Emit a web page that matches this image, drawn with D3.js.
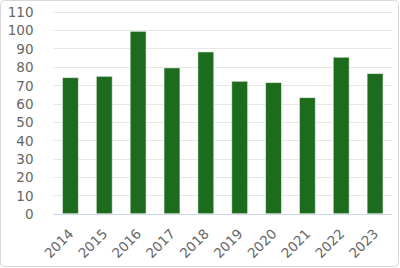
<!DOCTYPE html>
<html>
<head>
<meta charset="utf-8">
<script src="https://cdn.jsdelivr.net/npm/d3@7"></script>
<style>
  html, body { margin: 0; padding: 0; background: #fff; }
  svg { display: block; }
  text { font-family: "DejaVu Sans", sans-serif; }
</style>
</head>
<body>
<svg id="chart" width="400" height="268"></svg>
<script>
const years = ["2014","2015","2016","2017","2018","2019","2020","2021","2022","2023"];
const values = [74.1, 74.8, 99.3, 79.4, 88.1, 72.1, 71.4, 63.2, 85.2, 76.3];
const yTicks = [0,10,20,30,40,50,60,70,80,90,100,110];

const svg = d3.select("#chart");
const W = 400, H = 268;
const plotLeft = 53.5, plotRight = 392, plotTop = 11.7, plotBottom = 213.7;

// outer frame
svg.append("rect")
  .attr("x", 0.5).attr("y", 0.5)
  .attr("width", W - 2).attr("height", H - 2)
  .attr("rx", 4)
  .attr("fill", "#fff")
  .attr("stroke", "#d8d8d8");

const x = d3.scaleBand().domain(years).range([plotLeft, plotRight])
  .paddingInner(0.53).paddingOuter(0.265);
const y = d3.scaleLinear().domain([0, 110]).range([plotBottom, plotTop]);

// gridlines
svg.append("g").selectAll("line").data(yTicks.filter(d => d > 0)).join("line")
  .attr("x1", plotLeft).attr("x2", plotRight)
  .attr("y1", d => Math.round(y(d)) + 0.5).attr("y2", d => Math.round(y(d)) + 0.5)
  .attr("stroke", "#e6e6e6").attr("stroke-width", 1);

// y labels
const yAxis = d3.axisLeft(y).tickValues(yTicks).tickSize(0).tickPadding(0);
const yg = svg.append("g").attr("transform", `translate(${plotLeft - 20},0)`).call(yAxis);
yg.select(".domain").remove();
yg.selectAll("text")
  .attr("font-size", "13.5px")
  .attr("font-family", "DejaVu Sans, sans-serif")
  .attr("fill", "#666")
  .attr("dy", "0.36em");

// bars
svg.append("g").selectAll("rect").data(years).join("rect")
  .attr("x", d => x(d))
  .attr("y", (d, i) => y(values[i]))
  .attr("width", x.bandwidth())
  .attr("height", (d, i) => y(0) - y(values[i]))
  .attr("fill", "#1d6b1d")
  .attr("stroke", "#ffffff")
  .attr("stroke-opacity", 0.55)
  .attr("stroke-width", 1);

// baseline
svg.append("line")
  .attr("x1", plotLeft).attr("x2", plotRight)
  .attr("y1", Math.round(y(0)) + 0.5).attr("y2", Math.round(y(0)) + 0.5)
  .attr("stroke", "#ccd6eb").attr("stroke-width", 1);

// x labels
const xAxis = d3.axisBottom(x).tickSize(0).tickPadding(0);
const xg = svg.append("g").attr("transform", `translate(0,${plotBottom})`).call(xAxis);
xg.select(".domain").remove();
xg.selectAll("text")
  .attr("font-size", "13.5px")
  .attr("font-family", "DejaVu Sans, sans-serif")
  .attr("fill", "#666")
  .attr("text-anchor", "end")
  .attr("dy", null)
  .attr("y", 0)
  .attr("transform", "translate(4,21) rotate(-45)");
</script>
</body>
</html>
